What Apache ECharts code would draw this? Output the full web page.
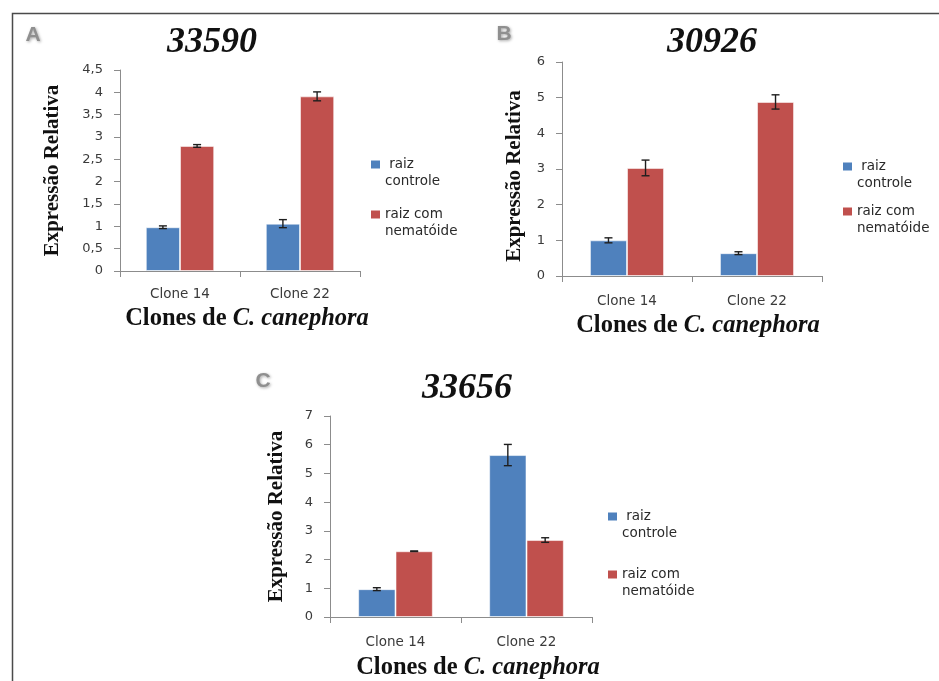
<!DOCTYPE html>
<html>
<head>
<meta charset="utf-8">
<script src="https://cdn.jsdelivr.net/npm/echarts@6/dist/echarts.min.js"></script>
<style>
  html, body { margin: 0; padding: 0; background: #fff; }
  #chart { width: 939px; height: 681px; }
</style>
</head>
<body>
<div id="chart"></div>
<script>
// Relative expression of three genes in C. canephora clones
const categories = ['Clone 14', 'Clone 22'];
const seriesNames = ['raiz controle', 'raiz com nematóide'];
const geneTitles = ['33590', '30926', '33656'];
const panelLetters = ['A', 'B', 'C'];

// Gene 33590
const controleA = [0.98, 1.06];
const nematoideA = [2.80, 3.91];
const errControleA = [0.03, 0.09];
const errNematoideA = [0.03, 0.10];

// Gene 30926
const controleB = [1.00, 0.64];
const nematoideB = [3.03, 4.88];
const errControleB = [0.07, 0.04];
const errNematoideB = [0.22, 0.20];

// Gene 33656
const controleC = [0.97, 5.64];
const nematoideC = [2.29, 2.68];
const errControleC = [0.05, 0.37];
const errNematoideC = [0.01, 0.08];

// Value axis ranges
const yMax = [4.5, 6, 7];
const yStep = [0.5, 1, 1];

const COLORS = ['#4F81BD', '#C0504D'];
const SERIF = '"Liberation Serif", "Times New Roman", serif';
const SANS = '"DejaVu Sans", Verdana, sans-serif';
const CAT_GAP = 0.43;

const panels = [
  { ctrl: controleA, nem: nematoideA, eCtrl: errControleA, eNem: errNematoideA,
    grid: { left: 120, top: 70, width: 240, height: 201 },
    yNameGap: 57, yNamePad: [0, 0, 0, 0], xNameGap: 35, xNameShift: 14, labelMargin: 16,
    title: [207, 20], letter: [33, 35],
    legend: { left: 371, top: 139, gap: -1 } },
  { ctrl: controleB, nem: nematoideB, eCtrl: errControleB, eNem: errNematoideB,
    grid: { left: 562, top: 62, width: 260, height: 214 },
    yNameGap: 37, yNamePad: [0, 14, 0, 0], xNameGap: 37, xNameShift: 12, labelMargin: 18,
    title: [707, 20], letter: [504, 34],
    legend: { left: 843, top: 141, gap: -6 } },
  { ctrl: controleC, nem: nematoideC, eCtrl: errControleC, eNem: errNematoideC,
    grid: { left: 330, top: 416, width: 262, height: 201 },
    yNameGap: 43, yNamePad: [0, 0, 0, 0], xNameGap: 38, xNameShift: 34, labelMargin: 18,
    title: [462, 366], letter: [263, 381],
    legend: { left: 608, top: 491, gap: 7 } }
];

const commaFmt = v => String(v).replace('.', ',');

const grid = [], xAxis = [], yAxis = [], series = [], title = [], legend = [], graphic = [];

// Outer frame (top and left edges visible)
graphic.push({
  type: 'rect', left: 10, top: 11, z: 100,
  shape: { width: 1000, height: 1000 },
  style: { fill: 'none', stroke: '#4a4a4a', lineWidth: 1.5 }
});

function errorBarRenderer(side) {
  return function (params, api) {
    const cat = api.value(0);
    const val = api.value(1);
    const err = api.value(2);
    const bandW = api.size([1, 0])[0];
    const off = side * bandW * (1 - CAT_GAP) / 4;
    const top = api.coord([cat, val + err]);
    const bot = api.coord([cat, val - err]);
    const x = top[0] + off;
    const cap = 4;
    const style = { stroke: '#1e1e1e', lineWidth: 1.4 };
    return {
      type: 'group',
      children: [
        { type: 'line', shape: { x1: x, y1: top[1], x2: x, y2: bot[1] }, style },
        { type: 'line', shape: { x1: x - cap, y1: top[1], x2: x + cap, y2: top[1] }, style },
        { type: 'line', shape: { x1: x - cap, y1: bot[1], x2: x + cap, y2: bot[1] }, style }
      ]
    };
  };
}

panels.forEach((p, i) => {
  grid.push(Object.assign({ containLabel: false }, p.grid));

  xAxis.push({
    type: 'category', gridIndex: i, data: categories,
    axisLine: { lineStyle: { color: '#8c8c8c', width: 1 } },
    axisTick: { show: true, length: 6, lineStyle: { color: '#8c8c8c' } },
    axisLabel: { color: '#3a3a3a', fontFamily: SANS, fontSize: 13.5, margin: p.labelMargin },
    name: '{n|Clones de }{i|C. canephora}',
    nameLocation: 'middle', nameGap: p.xNameGap,
    nameTextStyle: {
      padding: [0, 0, 0, p.xNameShift],
      rich: {
        n: { fontFamily: SERIF, fontWeight: 'bold', fontSize: 24.5, color: '#111' },
        i: { fontFamily: SERIF, fontWeight: 'bold', fontStyle: 'italic', fontSize: 24.5, color: '#111' }
      }
    }
  });

  yAxis.push({
    type: 'value', gridIndex: i, min: 0, max: yMax[i], interval: yStep[i],
    splitLine: { show: false },
    axisLine: { show: true, lineStyle: { color: '#8c8c8c', width: 1 } },
    axisTick: { show: true, length: 6, lineStyle: { color: '#8c8c8c' } },
    axisLabel: { color: '#3a3a3a', fontFamily: SANS, fontSize: 13, margin: 17, formatter: commaFmt },
    name: 'Expressão Relativa', nameLocation: 'middle', nameGap: p.yNameGap, nameRotate: 90,
    nameTextStyle: { fontFamily: SERIF, fontWeight: 'bold', fontSize: 21, color: '#111', padding: p.yNamePad }
  });

  [p.ctrl, p.nem].forEach((vals, s) => {
    series.push({
      type: 'bar', name: seriesNames[s], xAxisIndex: i, yAxisIndex: i,
      data: vals, barGap: '0%', barCategoryGap: (CAT_GAP * 100) + '%',
      itemStyle: { color: COLORS[s], borderColor: 'rgba(255,255,255,0.55)', borderWidth: 1 },
      emphasis: { disabled: true }
    });
  });

  [[p.ctrl, p.eCtrl, -1], [p.nem, p.eNem, 1]].forEach(([vals, errs, side]) => {
    series.push({
      type: 'custom', xAxisIndex: i, yAxisIndex: i, z: 5,
      renderItem: errorBarRenderer(side),
      data: vals.map((v, k) => [k, v, errs[k]]),
      encode: { x: 0, y: 1 },
      silent: true
    });
  });

  title.push({
    text: geneTitles[i], left: p.title[0], top: p.title[1], textAlign: 'center',
    textStyle: { fontFamily: SERIF, fontWeight: 'bold', fontStyle: 'italic', fontSize: 36, color: '#111' }
  });

  graphic.push({
    type: 'text', x: p.letter[0], y: p.letter[1], z: 50,
    style: {
      text: panelLetters[i], fontFamily: '"Liberation Sans", Arial, sans-serif', fontWeight: 'bold',
      fontSize: 21, fill: '#8f8f8f', align: 'center', verticalAlign: 'middle',
      textShadowColor: 'rgba(0,0,0,0.35)', textShadowBlur: 3, textShadowOffsetX: 1, textShadowOffsetY: 1
    }
  });

  // Two-line legend labels; a blank first line keeps the swatch level with the first text line
  legend.push({
    orient: 'vertical', left: p.legend.left, top: p.legend.top, padding: 0,
    itemGap: p.legend.gap, itemWidth: 9, itemHeight: 8, itemStyle: { borderWidth: 0 },
    selectedMode: false,
    data: seriesNames.map(n => ({ name: n, icon: 'rect' })),
    formatter: n => n === seriesNames[0] ? '\u00a0\n raiz\ncontrole' : '\u00a0\nraiz com\nnematóide',
    textStyle: { fontFamily: SANS, fontSize: 13.5, color: '#2a2a2a', lineHeight: 17 }
  });
});

const chart = echarts.init(document.getElementById('chart'), null, { renderer: 'canvas' });
chart.setOption({
  animation: false,
  backgroundColor: '#fff',
  grid, xAxis, yAxis, series, title, legend, graphic
});
</script>
</body>
</html>
